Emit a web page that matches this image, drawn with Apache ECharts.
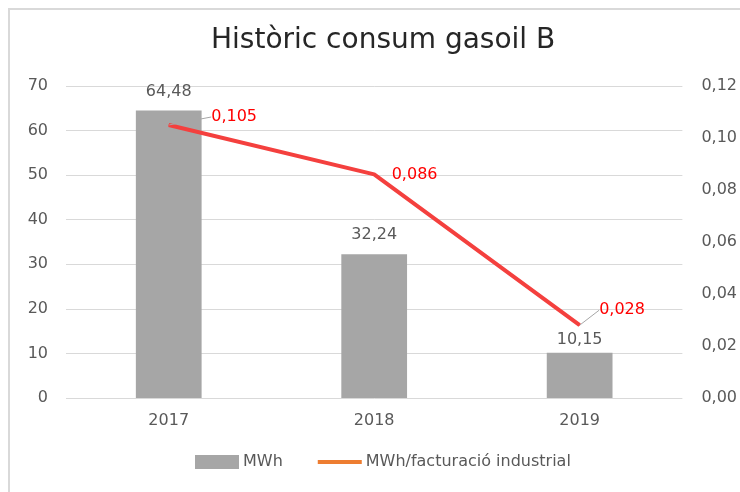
<!DOCTYPE html>
<html>
<head>
<meta charset="utf-8">
<style>
  html, body { margin: 0; padding: 0; background: #fff; }
  #chart { width: 740px; height: 492px; }
</style>
<script src="https://cdn.jsdelivr.net/npm/echarts@6/dist/echarts.min.js"></script>
</head>
<body>
<div id="chart"></div>
<script>
// dades
const years = ['2017', '2018', '2019'];
const mwh = [64.48, 32.24, 10.15];
const ratio = [0.105, 0.086, 0.028];

// desplaçament de les etiquetes de la línia (dx, dy)
const lineLabelShift = [[34, -8], [9, 0], [11, -15]];

const font = '"DejaVu Sans", "Liberation Sans", Arial, sans-serif';
const comma = (v, d) => v.toFixed(d).replace('.', ',');

const chart = echarts.init(document.getElementById('chart'));

chart.setOption({
  animation: false,
  textStyle: { fontFamily: font },
  graphic: [{
    type: 'rect',
    shape: { x: 9, y: 9, width: 800, height: 800 },
    style: { fill: 'none', stroke: '#d9d9d9', lineWidth: 2 },
    silent: true
  }],
  title: {
    text: 'Històric consum gasoil B',
    left: 206,
    top: 22,
    textStyle: { fontFamily: font, fontSize: 28, fontWeight: 'normal', color: '#262626' }
  },
  legend: {
    bottom: 17,
    left: 190,
    itemGap: 33,
    itemWidth: 44,
    itemHeight: 14,
    textStyle: { fontFamily: font, fontSize: 16, color: '#595959', padding: [0, 0, 0, -1] },
    data: [
      { name: 'MWh', icon: 'rect' },
      {
        name: 'MWh/facturació industrial',
        itemStyle: { color: '#ed7d31', opacity: 0 },
        lineStyle: { color: '#ed7d31', width: 4, opacity: 1 }
      }
    ]
  },
  grid: { left: 66, right: 56, top: 86, bottom: 94 },
  xAxis: {
    type: 'category',
    data: years,
    axisLine: { show: false },
    axisTick: { show: false },
    axisLabel: { fontSize: 16, color: '#595959', margin: 15 }
  },
  yAxis: [{
    type: 'value',
    min: 0,
    max: 70,
    interval: 10,
    axisLine: { show: false },
    axisTick: { show: false },
    axisLabel: { fontSize: 16, color: '#595959', margin: 18 },
    splitLine: { lineStyle: { color: '#d9d9d9', width: 1 } }
  }, {
    type: 'value',
    min: 0,
    max: 0.12,
    interval: 0.02,
    axisLine: { show: false },
    axisTick: { show: false },
    axisLabel: { fontSize: 16, color: '#595959', margin: 19, formatter: v => comma(v, 2) },
    splitLine: { show: false }
  }],
  series: [{
    name: 'MWh',
    type: 'bar',
    data: [
      mwh[0],
      mwh[1],
      { value: mwh[2], label: { distance: 5 } }
    ],
    barWidth: '32%',
    itemStyle: { color: '#a6a6a6' },
    label: {
      show: true,
      position: 'top',
      distance: 11,
      fontSize: 16,
      color: '#595959',
      formatter: p => comma(p.value, 2)
    }
  }, {
    name: 'MWh/facturació industrial',
    type: 'line',
    yAxisIndex: 1,
    data: [
      ratio[0],
      { value: ratio[1], labelLine: { show: false } },
      ratio[2]
    ],
    symbol: 'circle',
    symbolSize: 1,
    showSymbol: true,
    lineStyle: { color: '#f4403e', width: 4 },
    itemStyle: { color: '#f4403e' },
    label: {
      show: true,
      position: 'right',
      distance: 8,
      fontSize: 16,
      color: '#ff0000',
      formatter: p => comma(p.value, 3)
    },
    labelLine: { show: true, lineStyle: { color: '#a6a6a6', width: 1 } },
    labelLayout: p => ({ dx: lineLabelShift[p.dataIndex][0], dy: lineLabelShift[p.dataIndex][1] }),
    z: 3
  }]
});
</script>
</body>
</html>
